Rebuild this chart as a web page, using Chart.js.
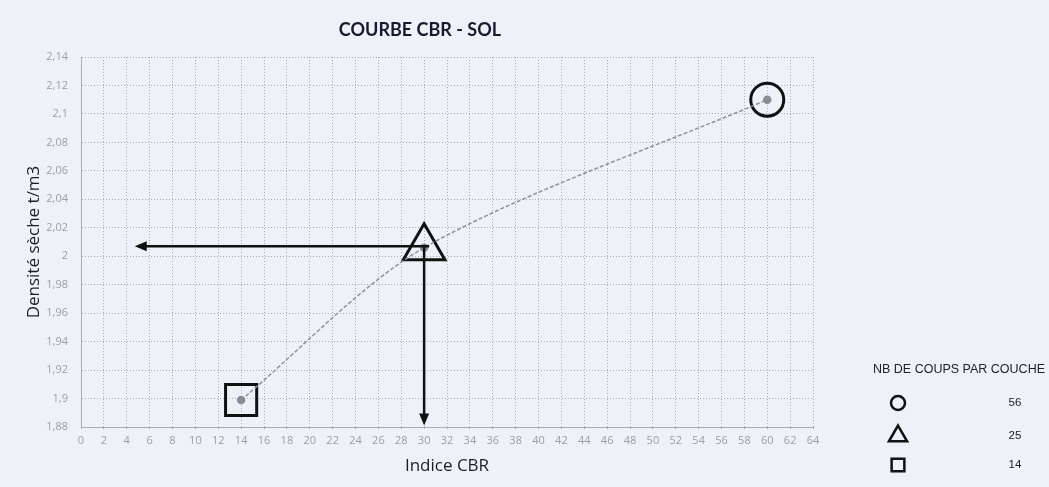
<!DOCTYPE html>
<html>
<head>
<meta charset="utf-8">
<script src="https://cdn.jsdelivr.net/npm/chart.js@4/dist/chart.umd.min.js"></script>
<style>
  html, body { margin: 0; padding: 0; background: #eef1f8; }
  #wrap { width: 1049px; height: 487px; }
</style>
</head>
<body>
<div id="wrap"><canvas id="cbr_chart" width="1049" height="487"></canvas></div>
<script>
// values
const cbrIndex = [14, 30, 60];
const dryDensity = [1.899, 2.006, 2.11];
const blowsPerLayer = ['14', '25', '56'];
const markerStyles = ['rect', 'triangle', 'circle'];
const markerSizes = [22, 24, 16.5];

// reading lines (arrows) on the curve
const readX = 30;
const readY = 2.007;
const arrowLeftEnd = 4.7;
const arrowBottomEnd = 1.881;

// legend, top to bottom
const legendBlows = ['56', '25', '14'];
const legendStyles = ['circle', 'triangle', 'rect'];

const gridColor = '#a9adb6';
const tickColor = '#9a9ea6';

const curvePoints = cbrIndex.map((x, i) => ({ x: x, y: dryDensity[i] }));

const markerSets = cbrIndex.map((x, i) => ({
  label: blowsPerLayer[i],
  data: [{ x: x, y: dryDensity[i] }],
  showLine: false,
  pointStyle: markerStyles[i],
  pointRadius: markerSizes[i],
  pointHoverRadius: markerSizes[i],
  pointBorderWidth: 3,
  pointBorderColor: '#111111',
  pointBackgroundColor: 'rgba(0,0,0,0)'
}));

function frNum(v) {
  const r = Math.round(v * 100) / 100;
  return String(r).replace('.', ',');
}

function arrowHead(ctx, x, y, dir) {
  const len = 12, half = 5;
  ctx.beginPath();
  if (dir === 'left') {
    ctx.moveTo(x, y);
    ctx.lineTo(x + len, y - half);
    ctx.lineTo(x + len, y + half);
  } else {
    ctx.moveTo(x, y);
    ctx.lineTo(x - half, y - len);
    ctx.lineTo(x + half, y - len);
  }
  ctx.closePath();
  ctx.fill();
}

const readingArrows = {
  id: 'readingArrows',
  afterDatasetsDraw(chart) {
    const ctx = chart.ctx;
    const xs = chart.scales.x, ys = chart.scales.y;
    const px = xs.getPixelForValue(readX);
    const py = ys.getPixelForValue(readY);
    const pl = xs.getPixelForValue(arrowLeftEnd);
    const pb = ys.getPixelForValue(arrowBottomEnd);
    ctx.save();
    ctx.strokeStyle = '#111111';
    ctx.fillStyle = '#111111';
    ctx.lineWidth = 2.5;
    ctx.beginPath();
    ctx.moveTo(px + 5, py);
    ctx.lineTo(pl + 10, py);
    ctx.moveTo(px, py);
    ctx.lineTo(px, pb - 10);
    ctx.stroke();
    arrowHead(ctx, pl, py, 'left');
    arrowHead(ctx, px, pb, 'down');
    ctx.restore();
  }
};

// title drawn by hand so it sits where the sheet has it
const sheetTitle = {
  id: 'sheetTitle',
  afterDraw(chart) {
    const ctx = chart.ctx;
    ctx.save();
    ctx.fillStyle = '#161a2c';
    ctx.font = 'bold 18px Lato, sans-serif';
    ctx.textAlign = 'center';
    ctx.textBaseline = 'middle';
    ctx.fillText('COURBE CBR - SOL', 420, 30);
    ctx.restore();
  }
};

const blowsLegend = {
  id: 'blowsLegend',
  afterDraw(chart) {
    const ctx = chart.ctx;
    ctx.save();
    ctx.fillStyle = '#222222';
    ctx.font = '12.5px "Liberation Sans", Arial, sans-serif';
    ctx.textBaseline = 'middle';
    ctx.textAlign = 'left';
    ctx.fillText('NB DE COUPS PAR COUCHE', 873, 370);
    const rowY = [403, 436, 465];
    const rad = [7, 10.5, 9];
    legendBlows.forEach((lab, i) => {
      ctx.strokeStyle = '#111111';
      ctx.fillStyle = 'rgba(0,0,0,0)';
      ctx.lineWidth = 2.5;
      Chart.helpers.drawPoint(ctx, {
        pointStyle: legendStyles[i],
        radius: rad[i],
        rotation: 0,
        borderWidth: 2.5
      }, 898, rowY[i]);
      ctx.fillStyle = '#222222';
      ctx.textAlign = 'center';
      ctx.font = '11.5px "Liberation Sans", Arial, sans-serif';
      ctx.fillText(lab, 1015, rowY[i]);
    });
    ctx.restore();
  }
};

const ctx = document.getElementById('cbr_chart');
const cbrChart = new Chart(ctx, {
  type: 'scatter',
  data: {
    datasets: [{
      label: 'Courbe',
      data: curvePoints,
      showLine: true,
      tension: 0.3,
      borderColor: '#8e9299',
      borderWidth: 1.5,
      borderDash: [4, 2],
      pointRadius: 3.5,
      pointBackgroundColor: '#8a8d94',
      pointBorderColor: '#8a8d94'
    }].concat(markerSets)
  },
  options: {
    responsive: false,
    animation: false,
    layout: { padding: { left: 0, right: 236, top: 57, bottom: 0 } },
    plugins: {
      legend: { display: false },
      tooltip: { enabled: false },
      title: { display: false }
    },
    scales: {
      x: {
        type: 'linear',
        min: 0,
        max: 64,
        ticks: {
          stepSize: 2,
          color: tickColor,
          font: { family: 'Open Sans', size: 11 },
          padding: 3,
          maxRotation: 0,
          autoSkip: false
        },
        grid: {
          color: gridColor,
          lineWidth: 1,
          drawTicks: true,
          tickLength: 4,
          tickBorderDash: [1, 2]
        },
        border: { color: gridColor, dash: [1, 2] },
        title: {
          display: true,
          text: 'Indice CBR',
          color: '#1d1d24',
          font: { family: 'Open Sans', size: 17 },
          padding: { top: 4, bottom: 11 }
        },
        afterFit: s => { s.height = 60; }
      },
      y: {
        type: 'linear',
        min: 1.88,
        max: 2.14,
        ticks: {
          stepSize: 0.02,
          color: tickColor,
          font: { family: 'Open Sans', size: 11 },
          padding: 13,
          callback: v => frNum(v)
        },
        grid: {
          color: gridColor,
          lineWidth: 1,
          drawTicks: false
        },
        border: { color: gridColor, dash: [1, 2] },
        title: {
          display: true,
          text: 'Densité sèche t/m3',
          color: '#1d1d24',
          font: { family: 'Open Sans', size: 17 },
          padding: { top: 24, bottom: 4 }
        },
        afterFit: s => { s.width = 81; }
      }
    }
  },
  plugins: [readingArrows, sheetTitle, blowsLegend]
});
</script>
</body>
</html>
